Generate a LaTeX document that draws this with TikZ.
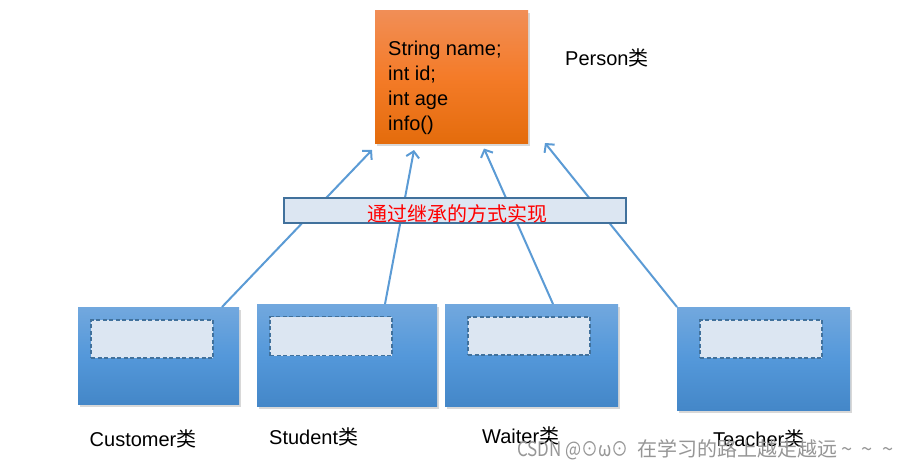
\documentclass[tikz,border=0pt]{standalone}
\usepackage{fontspec}
\setmainfont{Liberation Sans}
\newfontfamily\cjk{Noto Sans CJK SC}
\usetikzlibrary{arrows.meta,shadows,calc}
\definecolor{orangetop}{RGB}{241,142,86}
\definecolor{orangemid}{RGB}{244,123,40}
\definecolor{orangebot}{RGB}{228,108,12}
\definecolor{bluetop}{RGB}{114,168,222}
\definecolor{bluemid}{RGB}{84,152,218}
\definecolor{bluebot}{RGB}{68,135,200}
\definecolor{paleblue}{RGB}{220,230,242}
\definecolor{edgeblue}{RGB}{65,113,156}
\definecolor{linkblue}{RGB}{91,155,213}
\definecolor{wm}{RGB}{150,150,150}
\begin{document}
\begin{tikzpicture}[x=1pt,y=-1pt,
  classbox/.style={inner sep=0pt, outer sep=0pt, anchor=north west,
    drop shadow={opacity=0.3, shadow xshift=2pt, shadow yshift=-2.5pt}},
  parentbox/.style={classbox, top color=orangetop, bottom color=orangebot, middle color=orangemid},
  childbox/.style={classbox, top color=bluetop, bottom color=bluebot, middle color=bluemid},
  slot/.style={inner sep=0pt, outer sep=0pt, anchor=north west, fill=paleblue,
    draw=edgeblue, line width=1.1pt, dash pattern=on 4pt off 2.5pt},
  banner/.style={inner sep=0pt, outer sep=0pt, anchor=north west, fill=paleblue,
    draw=edgeblue, line width=1.2pt, minimum width=342pt, minimum height=25pt},
  lab/.style={font=\fontsize{20}{24}\selectfont, inner sep=0pt, anchor=base west},
  conn/.style={draw=linkblue, line width=2pt, -{Straight Barb[length=6pt,width=13pt,line width=2pt]}}
]
\fill[white] (0,0) rectangle (912,468);
\useasboundingbox (0,0) rectangle (912,468);

% parent
\node[parentbox, minimum width=153pt, minimum height=132pt] (person) at (375,11) {};
\node[lab, anchor=north west, align=left, font=\fontsize{20}{25}\selectfont] (fields) at (388,40.5)
  {String name;\\int id;\\int age\\info()};
\node[lab] (personlab) at (565,66) {Person{\cjk 类}};

% children
\node[childbox, minimum width=161pt, minimum height=97pt] (cust) at (78,307) {};
\node[childbox, minimum width=180pt, minimum height=102pt] (stud) at (257,304) {};
\node[childbox, minimum width=173pt, minimum height=102pt] (wait) at (445,304) {};
\node[childbox, minimum width=173pt, minimum height=103pt] (teach) at (677,307) {};

\node[slot, minimum width=122pt, minimum height=38pt] (custslot) at (91,320) {};
\node[slot, minimum width=122pt, minimum height=39pt] (studslot) at (270,316.5) {};
\node[slot, minimum width=122pt, minimum height=38pt] (waitslot) at (468,317) {};
\node[slot, minimum width=122pt, minimum height=38pt] (teachslot) at (700,320) {};

\node[lab] (custlab) at (89.5,446) {Customer{\cjk 类}};
\node[lab] (studlab) at (269,444) {Student{\cjk 类}};
\node[lab] (waitlab) at (482,443) {Waiter{\cjk 类}};
\node[lab] (teachlab) at (713,446.5) {Teacher{\cjk 类}};

% arrow tips
\coordinate (t1) at (372,150);
\coordinate (t2) at (414,150);
\coordinate (t3) at (484,148.5);
\coordinate (t4) at (545,143);

\draw[conn] ([xshift=144pt]cust.north west) -- (t1);
\draw[conn] ([xshift=128pt]stud.north west) -- (t2);
\draw[conn] ([xshift=108pt]wait.north west) -- (t3);
\draw[conn] (teach.north west) -- (t4);

% banner
\node[banner] (via) at (284,198) {};
\node[inner sep=0pt, text=red, font=\cjk\fontsize{20}{22}\selectfont] (viatext) at (457,214) {通过继承的方式实现};

% watermark
\node[inner sep=0pt, anchor=base west, text=wm, font=\cjk\fontsize{20}{22}\selectfont] (mark) at (517,456)
  {\scalebox{0.85}[1]{CSDN @⊙ω⊙}\hspace{9pt}在学习的路上越走越远\hspace{4pt}\char"007E\hspace{9pt}\char"007E\hspace{9pt}\char"007E};
\end{tikzpicture}
\end{document}
